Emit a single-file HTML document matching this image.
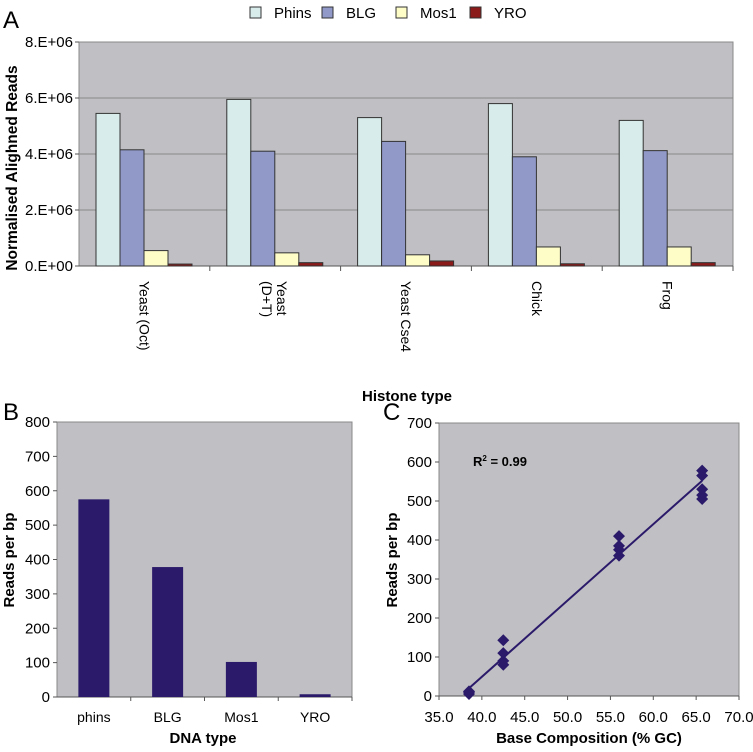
<!DOCTYPE html>
<html><head><meta charset="utf-8"><style>
body{margin:0;background:#fff;font-family:"Liberation Sans",Arial,sans-serif}
svg text{font-family:"Liberation Sans",Arial,sans-serif}
</style></head><body>
<svg id="s" width="753" height="747" viewBox="0 0 753 747">
<text x="3" y="28" font-size="24">A</text>
<text x="3" y="420" font-size="24">B</text>
<text x="383" y="420" font-size="24">C</text>
<g id="gA"></g>
<g id="gB"></g>
<g id="gC"></g>
</svg>
<script>
const aCats=[["Yeast (Oct)"],["Yeast","(D+T)"],["Yeast Cse4"],["Chick"],["Frog"]];
const aSeries=["Phins","BLG","Mos1","YRO"];
const aPhins=[5.45e6,5.95e6,5.3e6,5.8e6,5.2e6];
const aBLG=[4.15e6,4.1e6,4.45e6,3.9e6,4.12e6];
const aMos1=[0.55e6,0.47e6,0.4e6,0.68e6,0.68e6];
const aYRO=[0.07e6,0.12e6,0.18e6,0.08e6,0.12e6];
const aTicks=[0,2e6,4e6,6e6,8e6];
const aTickLabels=["0.E+00","2.E+06","4.E+06","6.E+06","8.E+06"];
const bCats=["phins","BLG","Mos1","YRO"];
const bVals=[575,378,102,8];
const bTicks=[0,100,200,300,400,500,600,700,800];
const cX=[38.5,38.5,38.5,42.5,42.5,42.5,42.5,56,56,56,56,65.7,65.7,65.7,65.7,65.7];
const cY=[5,10,12,80,90,110,143,360,375,385,410,505,515,530,565,578];
const cXTicks=[35,40,45,50,55,60,65,70];
const cYTicks=[0,100,200,300,400,500,600,700];
const cFit=[[38.5,20],[65.7,552]];

const NS="http://www.w3.org/2000/svg";
function mk(p,tag,at,txt){const e=document.createElementNS(NS,tag);for(const k in at)e.setAttribute(k,at[k]);if(txt!==undefined)e.textContent=txt;p.appendChild(e);return e;}
const BG="#c0c0c4";

// Panel A
(function(){
const g=document.getElementById('gA');
const L=79,R=733,T=42,B=266;
const y=v=>B-(v/8e6)*(B-T);
const cw=(R-L)/aCats.length;
const r=mk(g,'rect',{x:L,y:T,width:R-L,height:B-T,fill:BG,stroke:"#888"});

aTicks.forEach((t,i)=>{
 if(t>0){const l=mk(g,'line',{x1:L,x2:R,y1:y(t),y2:y(t),stroke:"#888"});}
 mk(g,'line',{x1:L-4,x2:L,y1:y(t),y2:y(t),stroke:"#555"});
 const tx=mk(g,'text',{x:L-6,y:y(t)+5,"font-size":15,"text-anchor":"end"},aTickLabels[i]);
 
});
mk(g,'line',{x1:L,x2:R,y1:B,y2:B,stroke:"#555"});
const cols=["#d8ecec","#9099c8","#fefdc8","#8b1a1a"];
const data=[aPhins,aBLG,aMos1,aYRO];
const bw=24,off=17;
aCats.forEach((c,i)=>{
 const x0=L+i*cw;
 mk(g,'line',{x1:x0+cw,x2:x0+cw,y1:B,y2:B+5,stroke:"#555"});
 data.forEach((s,j)=>{
  const b=mk(g,'rect',{x:x0+off+j*bw,y:y(s[i]),width:bw,height:B-y(s[i]),fill:cols[j],stroke:"#333","stroke-width":1});
  
 });
 const cx=x0+cw/2;
 c.forEach((ln,k)=>{
  const xx=cx+(c.length===1?-5:(k===0?2:-13));
  const t=mk(g,'text',{x:xx,y:281,"font-size":14,transform:`rotate(90 ${xx} 281)`},ln);
  
 });
});
const xt=mk(g,'text',{x:407,y:401,"font-size":15,"font-weight":"bold","text-anchor":"middle"},"Histone type");

const yt=mk(g,'text',{x:0,y:0,"font-size":15.5,"font-weight":"bold","text-anchor":"middle",transform:"translate(17,168) rotate(-90)"},"Normalised Alighned Reads");

const lx=[250,322,396,470];
aSeries.forEach((s,j)=>{
 const q=mk(g,'rect',{x:lx[j],y:7,width:11,height:11,fill:cols[j],stroke:"#333"});
 
 const t=mk(g,'text',{x:lx[j]+24,y:18,"font-size":15},s);
 
});
})();

// Panel B
(function(){
const g=document.getElementById('gB');
const L=57,R=352,T=422,B=697;
const y=v=>B-(v/800)*(B-T);
const cw=(R-L)/bCats.length;
const r=mk(g,'rect',{x:L,y:T,width:R-L,height:B-T,fill:BG,stroke:"#888"});

bTicks.forEach(t=>{
 mk(g,'line',{x1:L-4,x2:L,y1:y(t),y2:y(t),stroke:"#555"});
 const tx=mk(g,'text',{x:L-7,y:y(t)+5,"font-size":15,"text-anchor":"end"},String(t));
 
});
mk(g,'line',{x1:L,x2:R,y1:B,y2:B,stroke:"#555"});
bCats.forEach((c,i)=>{
 const x0=L+i*cw;
 mk(g,'line',{x1:x0+cw,x2:x0+cw,y1:B,y2:B+4,stroke:"#555"});
 const b=mk(g,'rect',{x:x0+cw/2-15.5,y:y(bVals[i]),width:31,height:B-y(bVals[i]),fill:"#2b1a6a"});
 
 const t=mk(g,'text',{x:x0+cw/2,y:722,"font-size":14,"text-anchor":"middle"},c);
 
});
const xt=mk(g,'text',{x:203,y:743,"font-size":15,"font-weight":"bold","text-anchor":"middle"},"DNA type");

const yt=mk(g,'text',{x:0,y:0,"font-size":15,"font-weight":"bold","text-anchor":"middle",transform:"translate(14,560) rotate(-90)"},"Reads per bp");

})();

// Panel C
(function(){
const g=document.getElementById('gC');
const L=439,R=739,T=423,B=696;
const x=v=>L+(v-35)/35*(R-L);
const y=v=>B-(v/700)*(B-T);
const r=mk(g,'rect',{x:L,y:T,width:R-L,height:B-T,fill:BG,stroke:"#888"});

cYTicks.forEach(t=>{
 mk(g,'line',{x1:L-4,x2:L,y1:y(t),y2:y(t),stroke:"#555"});
 const tx=mk(g,'text',{x:L-7,y:y(t)+5,"font-size":15,"text-anchor":"end"},String(t));
 
});
mk(g,'line',{x1:L,x2:R,y1:B,y2:B,stroke:"#555"});
cXTicks.forEach(t=>{
 mk(g,'line',{x1:x(t),x2:x(t),y1:B,y2:B+4,stroke:"#555"});
 const tx=mk(g,'text',{x:x(t),y:722,"font-size":15,"text-anchor":"middle"},t.toFixed(1));
 
});
const fl=mk(g,'line',{x1:x(cFit[0][0]),y1:y(cFit[0][1]),x2:x(cFit[1][0]),y2:y(cFit[1][1]),stroke:"#2b1a6a","stroke-width":2});

cX.forEach((v,i)=>{
 const px=x(v),py=y(cY[i]),h=6;
 const p=mk(g,'polygon',{points:`${px},${py-h} ${px+h},${py} ${px},${py+h} ${px-h},${py}`,fill:"#2b1a6a"});
 
});
const rt=mk(g,'text',{x:473,y:466,"font-size":13,"font-weight":"bold"});

rt.innerHTML='R<tspan dy="-5" font-size="8">2</tspan><tspan dy="5"> = 0.99</tspan>';
const xt=mk(g,'text',{x:589,y:743,"font-size":15,"font-weight":"bold","text-anchor":"middle"},"Base Composition (% GC)");

const yt=mk(g,'text',{x:0,y:0,"font-size":15,"font-weight":"bold","text-anchor":"middle",transform:"translate(397,560) rotate(-90)"},"Reads per bp");

})();
</script>
</body></html>
